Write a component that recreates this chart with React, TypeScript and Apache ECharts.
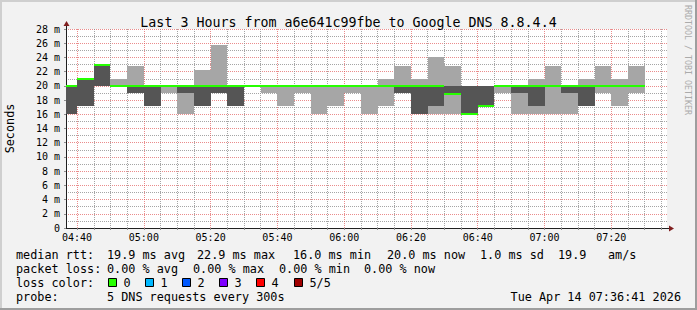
import React, { useEffect, useRef } from 'react';
import * as echarts from 'echarts';

// ---------- data ----------
const TITLE = 'Last 3 Hours from a6e641c99fbe to Google DNS 8.8.4.4';
const Y_NAME = 'Seconds';
const X_START = '04:36:41';
const X_END = '07:36:41';
const STEP_MIN = 5;
const MAJOR_MIN = 20;

const stepStarts = [
  '04:35', '04:40', '04:45', '04:50', '04:55', '05:00', '05:05', '05:10', '05:15', '05:20',
  '05:25', '05:30', '05:35', '05:40', '05:45', '05:50', '05:55', '06:00', '06:05', '06:10',
  '06:15', '06:20', '06:25', '06:30', '06:35', '06:40', '06:45', '06:50', '06:55', '07:00',
  '07:05', '07:10', '07:15', '07:20', '07:25',
];
// ms, 5 pings per step sorted: min, 2nd, median, 4th, max
const pingMin = [
  16, 17.2, 20, 20, 19, 17.2, 19, 16, 17.2, 19,
  17.2, 20, 19, 17.2, 19, 16, 17.2, 19, 16, 17.2,
  19, 16, 16, 16, 16, 17.2, 19, 16, 16, 16,
  16, 17.2, 19, 17.1, 19,
];
const ping2 = [
  16, 17.2, 20, 20, 19, 17.2, 20, 19, 17.2, 19,
  17.2, 20, 20, 20, 20, 20, 20, 20, 20, 20,
  19, 16, 17.2, 18.9, 16, 17.2, 20, 19, 17.2, 20,
  19, 17.2, 20, 20, 20,
];
const pingMedian = [
  20, 21, 22.9, 20, 20, 20, 20, 20, 20, 20,
  20, 20, 20, 20, 20, 20, 20, 20, 20, 20,
  20, 20, 20, 18.9, 16, 17.2, 20, 20, 20, 20,
  20, 20, 20, 20, 20,
];
const ping4 = [
  20, 21, 22.9, 20, 20, 20, 20, 20, 20, 20,
  20, 20, 20, 20, 20, 20, 20, 20, 20, 20,
  20, 20, 20, 20, 20, 20, 20, 20, 20, 20,
  20, 20, 20, 20, 20,
];
const pingMax = [
  20, 21, 22.9, 21, 22.8, 20, 20, 20, 22.2, 25.7,
  20, 20, 20, 20, 20, 20, 20, 20, 20, 21,
  22.8, 21, 24, 22.8, 20, 20, 20, 20, 21, 22.8,
  20, 21, 22.8, 20.9, 22.8,
];

const xLabelTimes = ['04:40', '05:00', '05:20', '05:40', '06:00', '06:20', '06:40', '07:00', '07:20'];
const Y_MAX = 28;
const Y_INTERVAL = 2;

const legendRtt = [
  ['median rtt:', 16], ['19.9 ms avg', 107], ['22.9 ms max', 197], ['16.0 ms min', 293],
  ['20.0 ms now', 387], ['1.0 ms sd', 480], ['19.9', 558], ['am/s', 608],
] as [string, number][];
const legendLoss = [
  ['packet loss:', 16], ['0.00 % avg', 107], ['0.00 % max', 193], ['0.00 % min', 279], ['0.00 % now', 364],
] as [string, number][];
const lossLabels = ['0', '1', '2', '3', '4', '5/5'];
const lossColors = ['#26ff00', '#00b8ff', '#0059ff', '#7e00ff', '#ff0000', '#a00000'];
const probeText = '5 DNS requests every 300s';
const dateText = 'Tue Apr 14 07:36:41 2026';
const watermark = 'RRDTOOL / TOBI OETIKER';

// ---------- helpers ----------
const toMin = (s: string) => {
  const p = s.split(':').map(Number);
  return p[0] * 60 + p[1] + (p[2] || 0) / 60;
};
const pad = (n: number) => (n < 10 ? '0' : '') + n;
const fmtTime = (v: number) => {
  const h = Math.floor(v / 60);
  const m = Math.round(v - h * 60);
  return pad(h) + ':' + pad(m);
};

const MONO = '"DejaVu Sans Mono", monospace';
const LIGHT = '#a6a6a6';
const DARK = '#555555';
const GREEN = '#26ff00';
const MINOR_GRID = 'rgba(143,143,143,0.8)';
const MAJOR_GRID = 'rgba(222,79,79,0.65)';

// plot geometry
const PLOT_LEFT = 66;
const PLOT_TOP = 29;
const PLOT_W = 601;
const PLOT_H = 199;

export default function App() {
  const ref = useRef<HTMLDivElement>(null);
  useEffect(() => {
    if (!ref.current) return;
    const chart = echarts.init(ref.current, undefined, { renderer: 'svg' });
    const xMin = toMin(X_START);
    const xMax = toMin(X_END);
    const pxPerMin = PLOT_W / (xMax - xMin);

    const smokeData = stepStarts.map((t, i) => [
      toMin(t), toMin(t) + STEP_MIN, pingMin[i], ping2[i], pingMedian[i], ping4[i], pingMax[i],
    ]);
    const gridTimes: number[] = [];
    for (let t = Math.ceil(xMin / STEP_MIN) * STEP_MIN; t < xMax; t += STEP_MIN) gridTimes.push(t);
    const labelValues = xLabelTimes.map(toMin);

    // helper grid that carries the vertical grid lines: starts at first 20-min mark
    const gMin = Math.ceil(xMin / MAJOR_MIN) * MAJOR_MIN;
    const gMax = gridTimes[gridTimes.length - 1];
    const g2Left = PLOT_LEFT + (gMin - xMin) * pxPerMin;
    const g2Width = (gMax - gMin) * pxPerMin;
    const perMajor = MAJOR_MIN / STEP_MIN;
    const vColors = Array.from({ length: perMajor }, (_, i) => (i === 0 ? MAJOR_GRID : MINOR_GRID));

    const LEG_FS = 11.8;
    const legendY = [254.5, 268.5, 282.5, 296.5];
    const txt = (text: string, x: number, y: number, extra: any = {}) => ({
      type: 'text', x, y, silent: true,
      style: { text, fill: '#000', fontSize: LEG_FS, fontFamily: MONO, align: 'left', verticalAlign: 'middle', ...extra },
    });

    const graphics: any[] = [
      // 3D border
      { type: 'rect', shape: { x: 0, y: 0, width: 697, height: 2 }, style: { fill: '#cfcfcf' }, silent: true },
      { type: 'rect', shape: { x: 0, y: 0, width: 2, height: 310 }, style: { fill: '#cfcfcf' }, silent: true },
      { type: 'rect', shape: { x: 0, y: 308, width: 697, height: 2 }, style: { fill: '#9e9e9e' }, silent: true },
      { type: 'rect', shape: { x: 695, y: 0, width: 2, height: 310 }, style: { fill: '#9e9e9e' }, silent: true },
      // axis arrows
      { type: 'line', shape: { x1: 667, y1: 228.5, x2: 669, y2: 228.5 }, style: { stroke: '#1f1f1f', lineWidth: 1 }, silent: true },
      { type: 'polygon', shape: { points: [[669, 225.5], [669, 231.5], [674, 228.5]] }, style: { fill: '#801f1f' }, silent: true },
      { type: 'line', shape: { x1: 66.5, y1: 29, x2: 66.5, y2: 26 }, style: { stroke: '#1f1f1f', lineWidth: 1 }, silent: true },
      { type: 'polygon', shape: { points: [[63.5, 26], [69.5, 26], [66.5, 21]] }, style: { fill: '#801f1f' }, silent: true },
      // y axis title
      {
        type: 'text', x: 10, y: 128.5, rotation: Math.PI / 2, silent: true,
        style: { text: Y_NAME, fill: '#000', fontSize: LEG_FS, fontFamily: MONO, align: 'center', verticalAlign: 'middle' },
      },
      // watermark
      {
        type: 'text', x: 688, y: 60, rotation: -Math.PI / 2, silent: true,
        style: { text: watermark, fill: '#ababab', fontSize: 8.3, fontFamily: MONO, align: 'center', verticalAlign: 'middle' },
      },
    ];
    legendRtt.forEach(([t, x]) => graphics.push(txt(t, x, legendY[0])));
    legendLoss.forEach(([t, x]) => graphics.push(txt(t, x, legendY[1])));
    graphics.push(txt('loss color:', 16, legendY[2]));
    lossLabels.forEach((lab, i) => {
      const sx = 108 + i * 37.1;
      graphics.push({
        type: 'rect', silent: true,
        shape: { x: Math.round(sx) + 0.5, y: 278.5, width: 8, height: 8 },
        style: { fill: lossColors[i], stroke: '#000', lineWidth: 1 },
      });
      graphics.push(txt(lab, Math.round(sx) + 15.5, legendY[2]));
    });
    graphics.push(txt('probe:', 16, legendY[3]));
    graphics.push(txt(probeText, 107, legendY[3]));
    graphics.push(txt(dateText, 681, legendY[3], { align: 'right' }));

    chart.setOption({
      animation: false,
      backgroundColor: '#f2f2f2',
      title: {
        text: TITLE, left: 'center', top: 11,
        textStyle: { fontFamily: MONO, fontSize: 13.3, fontWeight: 'normal', color: '#000' },
      },
      grid: [
        {
          left: PLOT_LEFT, top: PLOT_TOP, width: PLOT_W, height: PLOT_H,
          show: true, backgroundColor: '#ffffff', borderWidth: 0,
        },
        {
          left: g2Left, top: PLOT_TOP, width: g2Width, height: PLOT_H,
          show: false,
        },
      ],
      xAxis: [
        {
          type: 'value', gridIndex: 0, min: xMin, max: xMax,
          axisLine: { show: true, onZero: true, lineStyle: { color: '#1f1f1f', width: 1 } },
          axisTick: { show: true, customValues: gridTimes, length: 2, lineStyle: { color: '#8f8f8f' } },
          axisLabel: {
            customValues: labelValues, formatter: (v: number) => fmtTime(v),
            fontFamily: MONO, fontSize: 10, color: '#000', margin: 4,
          },
          splitLine: { show: false },
        },
        {
          type: 'value', gridIndex: 1, min: gMin, max: gMax, interval: STEP_MIN,
          axisLine: { show: false }, axisTick: { show: false }, axisLabel: { show: false },
          splitLine: { show: true, showMinLine: true, showMaxLine: true, lineStyle: { color: vColors, type: [1, 1], width: 1 } },
        },
      ],
      yAxis: [
        {
          type: 'value', gridIndex: 0, min: 0, max: Y_MAX, interval: Y_INTERVAL,
          axisLine: { show: true, lineStyle: { color: '#1f1f1f', width: 1 } },
          axisTick: { show: true, length: 2, lineStyle: { color: '#8f8f8f' } },
          minorTick: { show: false, splitNumber: 2 },
          axisLabel: {
            formatter: (v: number) => (v === 0 ? '0' : v + ' m'),
            fontFamily: MONO, fontSize: 10, color: '#000', margin: 6,
          },
          splitLine: { show: true, lineStyle: { color: MAJOR_GRID, type: [1, 1], width: 1 } },
          minorSplitLine: { show: true, lineStyle: { color: MINOR_GRID, type: [1, 1], width: 1 } },
        },
        {
          type: 'value', gridIndex: 1, min: 0, max: Y_MAX, show: false,
          splitLine: { show: false },
        },
      ],
      series: [
        {
          type: 'custom', name: 'smoke', z: 3, silent: true,
          xAxisIndex: 0, yAxisIndex: 0,
          data: smokeData,
          encode: { x: [0, 1], y: [2, 6] },
          renderItem: (_p: any, api: any) => {
            const t0 = Math.max(api.value(0), xMin);
            const t1 = Math.min(api.value(1), xMax);
            const x0 = Math.round(api.coord([t0, 0])[0]);
            const x1 = Math.round(api.coord([t1, 0])[0]);
            const y = (v: number) => Math.round(api.coord([t0, v])[1]);
            const lo = api.value(2), q2 = api.value(3), med = api.value(4), q4 = api.value(5), hi = api.value(6);
            const children: any[] = [];
            if (hi > lo) {
              children.push({ type: 'rect', shape: { x: x0, y: y(hi), width: x1 - x0, height: y(lo) - y(hi) }, style: { fill: LIGHT } });
            }
            if (q4 > q2) {
              children.push({ type: 'rect', shape: { x: x0, y: y(q4), width: x1 - x0, height: y(q2) - y(q4) }, style: { fill: DARK } });
            }
            const ym = api.coord([t0, med])[1];
            children.push({ type: 'rect', shape: { x: x0, y: Math.round(ym - 1), width: x1 - x0, height: 2 }, style: { fill: GREEN } });
            return { type: 'group', children };
          },
        },
      ],
      graphic: { elements: graphics },
    });
    return () => chart.dispose();
  }, []);
  return <div ref={ref} style={{ position: 'fixed', left: 0, top: 0, width: 697, height: 310 }} />;
}
